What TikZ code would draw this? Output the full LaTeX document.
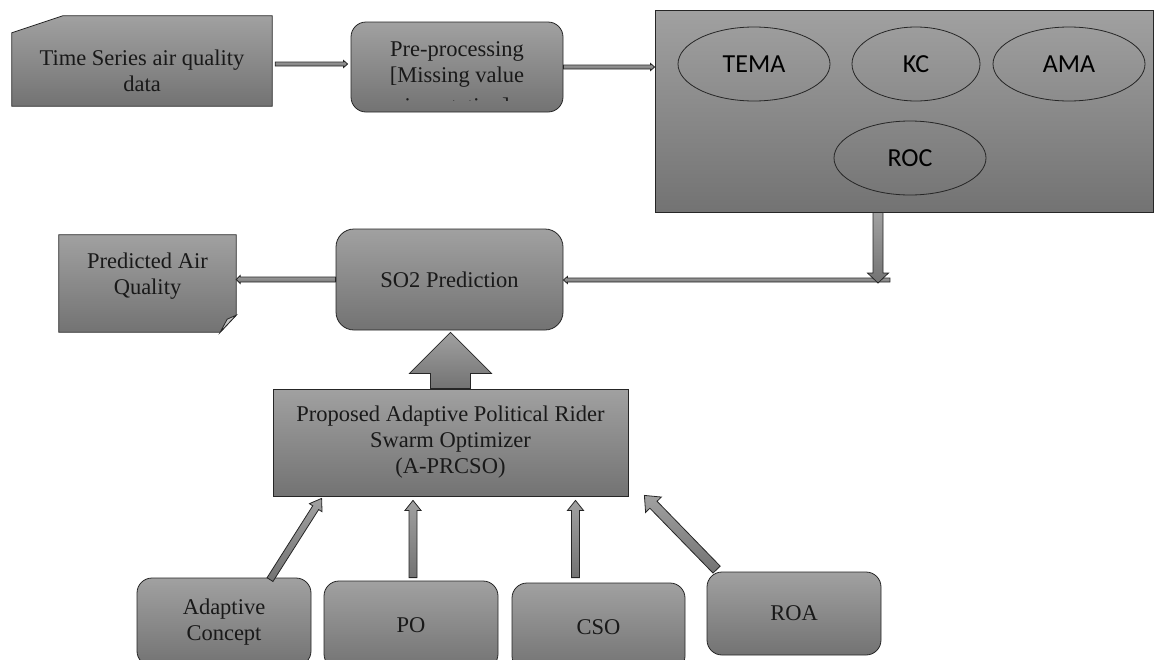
\documentclass[tikz,border=0pt]{standalone}
\usepackage{fontspec}
\setmainfont{Liberation Serif}
\newfontfamily\ovalfont{Carlito}
\usetikzlibrary{calc,shapes.geometric}
\definecolor{shadetop}{gray}{0.63}
\definecolor{shadebot}{gray}{0.45}
\definecolor{foldgray}{gray}{0.78}

% block arrow: from, to, shaft half width, head half width, head length
\newcommand{\blockarrow}[5]{%
  \coordinate (ba-s) at #1;
  \coordinate (ba-e) at #2;
  \coordinate (ba-h) at ($(ba-e)!#5!(ba-s)$);
  \shade[graybox] ($(ba-s)!#3!90:(ba-e)$) -- ($(ba-h)!#3!90:(ba-e)$) -- ($(ba-h)!#4!90:(ba-e)$) -- (ba-e)
    -- ($(ba-h)!#4!-90:(ba-e)$) -- ($(ba-h)!#3!-90:(ba-e)$) -- ($(ba-s)!#3!-90:(ba-e)$) -- cycle;
}

\begin{document}
\begin{tikzpicture}[x=1pt, y=-1pt,
  graybox/.style={top color=shadetop, bottom color=shadebot, draw=black!85, line width=0.8pt},
  roundbox/.style={graybox, rounded corners=15pt},
  txt/.style={font=\fontsize{22.5}{26}\selectfont, align=center, text=black!90},
  oval/.style={ellipse, draw=black!85, line width=0.8pt, inner sep=0pt, font=\ovalfont\fontsize{26}{30}\selectfont}]
\useasboundingbox (0,0) rectangle (1154,659);
\clip (0,0) rectangle (1154,659);

% input data
\node[minimum width=260, minimum height=90] (series) at (142,61) {};
\shade[graybox] ($(series.north west)+(51,0)$) -- (series.north east) -- (series.south east)
  -- (series.south west) -- ($(series.north west)+(0,17)$) -- cycle;
\node[txt] (seriestext) at (142,70.5) {Time Series air quality\\data};

% pre-processing
\node[roundbox, minimum width=212, minimum height=90] (prep) at (457,67) {};
\begin{scope}
  \clip (prep.north west) rectangle ($(prep.east)+(0,33)$);
  \node[txt, anchor=north] (preptext) at (457,38) {Pre-processing\\{}[Missing value\\[5pt]imputation]};
\end{scope}

% features
\node[graybox, minimum width=498, minimum height=202] (feat) at (904,111) {};
\node[oval, minimum width=152, minimum height=74] (tema) at (754,64) {TEMA};
\node[oval, minimum width=128, minimum height=74] (kc) at (916,64) {KC};
\node[oval, minimum width=152, minimum height=74] (ama) at (1069,64) {AMA};
\node[oval, minimum width=152, minimum height=74] (roc) at (910,158) {ROC};

% prediction
\node[roundbox, txt, rounded corners=18pt, minimum width=227, minimum height=101] (so2) at (449.5,279.5) {SO2 Prediction};
\node[minimum width=177, minimum height=97] (pred) at (147.5,283.5) {};
\shade[graybox] (pred.north west) -- (pred.north east) -- ($(pred.south east)+(0,-17)$)
  -- ($(pred.south east)+(-16,0)$) -- (pred.south west) -- cycle;
\filldraw[fill=foldgray, draw=black!85, line width=0.8pt] ($(pred.south east)+(0,-17)$)
  -- ($(pred.south east)+(-9,-13)$) -- ($(pred.south east)+(-16,0)$) -- cycle;
\node[txt] (predtext) at (147.5,276.5) {Predicted Air\\Quality};

% optimizer
\node[graybox, txt, minimum width=355, minimum height=107] (opt) at (450.5,442.5) {Proposed Adaptive Political Rider\\Swarm Optimizer\\(A-PRCSO)};
\node[roundbox, txt, minimum width=174, minimum height=88] (adapt) at (224,622) {Adaptive\\Concept};
\node[roundbox, txt, minimum width=174, minimum height=88] (po) at (411,625) {PO};
\node[roundbox, txt, minimum width=173, minimum height=88] (cso) at (598.5,627) {CSO};
\node[roundbox, txt, minimum width=174, minimum height=83] (roa) at (794,613.5) {ROA};

% connectors
\blockarrow{($(series.east)+(3,3)$)}{($(series.east -| prep.west)+(-3,3)$)}{2pt}{3.5pt}{4pt}
\blockarrow{(prep.east)}{(prep.east -| feat.west)}{2pt}{3.5pt}{4pt}
\coordinate (join) at (890,280);
\blockarrow{(join)}{(join -| so2.east)}{2pt}{3.5pt}{4pt}
\coordinate (drop) at (878,283);
\blockarrow{(drop |- feat.south)}{(drop)}{5pt}{10.5pt}{10pt}
\blockarrow{(so2.west)}{(so2.west -| pred.east)}{2.5pt}{4pt}{4pt}
\blockarrow{(opt.north)}{($(opt.north |- so2.south)+(0,2)$)}{20pt}{41pt}{41pt}
\blockarrow{($(adapt.north)+(46,2)$)}{($(opt.south west)+(49,2)$)}{3.5pt}{7.5pt}{11pt}
\blockarrow{($(po.north)+(2,-3)$)}{($(po.north |- opt.south)+(2,4)$)}{4pt}{8pt}{10pt}
\blockarrow{($(cso.north)+(-23,-5)$)}{($(cso.north |- opt.south)+(-23,4)$)}{4pt}{8pt}{10pt}
\blockarrow{($(roa.north west)+(10,-2)$)}{($(opt.south east)+(16,-1)$)}{5pt}{11pt}{13pt}
\end{tikzpicture}
\end{document}
